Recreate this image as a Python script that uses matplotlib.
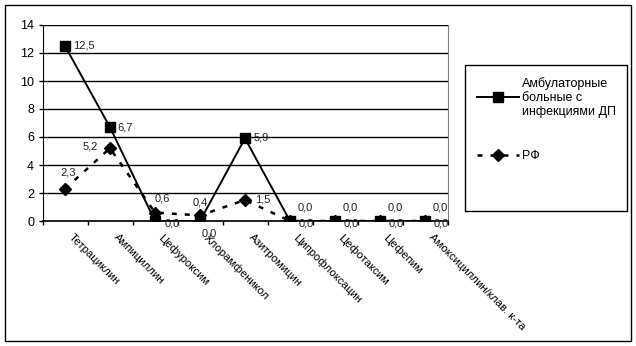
import matplotlib.pyplot as plt
import matplotlib.transforms as mtransforms
from matplotlib.patches import Rectangle

plt.rcParams['font.family'] = ['Liberation Sans', 'DejaVu Sans']

# Данные
препараты = ["Тетрациклин", "Ампициллин", "Цефуроксим", "Хлорамфеникол",
             "Азитромицин", "Ципрофлоксацин", "Цефотаксим", "Цефепим",
             "Амоксициллин/клав. к-та"]
амбулаторные = [12.5, 6.7, 0.0, 0.0, 5.9, 0.0, 0.0, 0.0, 0.0]
рф = [2.3, 5.2, 0.6, 0.4, 1.5, 0.0, 0.0, 0.0, 0.0]
подпись_1 = "Амбулаторные\nбольные с\nинфекциями ДП"
подпись_2 = "РФ"

# смещения подписей значений (пиксели) и выравнивание
смещ_1 = [(8, 0, 'left'), (7, 0, 'left'), (10, -2, 'left'), (9, -13, 'center'),
          (9, 1, 'left'), (9, -2, 'left'), (9, -2, 'left'), (9, -2, 'left'), (9, -2, 'left')]
смещ_2 = [(3, 16, 'center'), (-12, 2, 'right'), (0, 14, 'left'), (0, 13, 'center'),
          (10, 1, 'left'), (8, 14, 'left'), (8, 14, 'left'), (8, 14, 'left'), (8, 14, 'left')]

W, H = 636, 346
fig = plt.figure(figsize=(W / 100, H / 100), dpi=100)
ax = fig.add_axes([42.5 / W, (H - 221) / H, 405 / W, 196 / H])

x = list(range(len(препараты)))

ax.plot(x, рф, color='black', lw=1.8, linestyle=(0, (2, 3.2)),
        marker='D', markersize=6.5, label=подпись_2, zorder=3)
ax.plot(x, амбулаторные, color='black', lw=1.4, marker='s',
        markersize=6.5, label=подпись_1, zorder=4)

for i, v in enumerate(амбулаторные):
    dx, dy, ha = смещ_1[i]
    ax.annotate(f"{v:.1f}".replace('.', ','), (i, v), xytext=(dx, dy),
                textcoords='offset pixels', ha=ha, va='center', fontsize=8,
                color='#222222', zorder=5, annotation_clip=False)
for i, v in enumerate(рф):
    dx, dy, ha = смещ_2[i]
    ax.annotate(f"{v:.1f}".replace('.', ','), (i, v), xytext=(dx, dy),
                textcoords='offset pixels', ha=ha, va='center', fontsize=8,
                color='#222222', zorder=5, annotation_clip=False)

ax.set_xlim(-0.5, len(препараты) - 0.5)
ax.set_ylim(0, 14)
ax.set_yticks(range(0, 15, 2))
ax.yaxis.grid(True, color='black', lw=1)
ax.set_axisbelow(True)

ax.set_xticks(x)
ax.set_xticklabels(препараты, rotation=-45, ha='left', va='top',
                   rotation_mode='anchor', fontsize=8.2)
ax.set_xticks([i + 0.5 for i in range(-1, len(препараты))], minor=True)
ax.tick_params(axis='x', which='major', length=0, pad=8)
ax.tick_params(axis='x', which='minor', length=3, width=1, color='black')
ax.tick_params(axis='y', length=3, width=1, labelsize=9, pad=3)
сдвиг = mtransforms.ScaledTranslation(9 / 100, 0, fig.dpi_scale_trans)
for lbl in ax.get_xticklabels():
    lbl.set_transform(lbl.get_transform() + сдвиг)

ax.spines['top'].set_visible(False)
ax.spines['right'].set_color('#808080')
ax.spines['left'].set_color('black')
ax.spines['bottom'].set_color('black')
ax.spines['bottom'].set_linewidth(1.2)

# легенда в рамке
fig.patches.append(Rectangle((465 / W, (H - 211) / H), 162 / W, 146 / H,
                             transform=fig.transFigure, fill=False,
                             edgecolor='black', lw=1))
h, l = ax.get_legend_handles_labels()
fig.legend(h[::-1], l[::-1], loc='upper left',
           bbox_to_anchor=(472 / W, (H - 72) / H), frameon=False,
           fontsize=9, handlelength=3.4, handletextpad=0.2,
           labelspacing=2.6, borderaxespad=0)

# внешняя рамка
fig.patches.append(Rectangle((5 / W, 5 / H), 626 / W, 336 / H,
                             transform=fig.transFigure, fill=False,
                             edgecolor='black', lw=1))

plt.savefig("out.png", dpi=100)
